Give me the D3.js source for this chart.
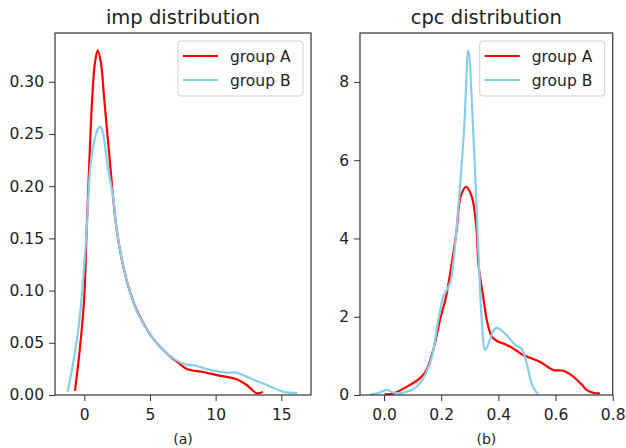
<!DOCTYPE html>
<html>
<head>
<meta charset="utf-8">
<script src="https://cdn.jsdelivr.net/npm/d3@7"></script>
<style>
  body { margin: 0; background: #fff; }
  svg { display: block; font-family: "DejaVu Sans", sans-serif; }
</style>
</head>
<body>
<svg id="chart" width="626" height="448"></svg>
<script>
// imp distribution (a)
var impAx = [-0.71, -0.46, -0.2, 0.0, 0.18, 0.38, 0.61, 0.81, 1.02, 1.27, 1.5, 1.73, 1.96, 2.19, 2.47, 2.92, 3.5, 4.11, 5.13, 6.27, 7.14, 7.8, 9.06, 10.08, 11.6, 12.37, 13.13, 13.6];
var impAy = [0.004, 0.030, 0.062, 0.094, 0.158, 0.222, 0.286, 0.318, 0.330, 0.318, 0.286, 0.254, 0.222, 0.190, 0.158, 0.126, 0.098, 0.078, 0.056, 0.040, 0.031, 0.025, 0.022, 0.019, 0.015, 0.0096, 0.0016, 0.003];
var impBx = [-1.27, -0.86, -0.46, -0.2, 0.18, 0.38, 0.55, 0.76, 1.0, 1.2, 1.4, 1.58, 1.8, 2.19, 2.47, 2.92, 3.5, 4.11, 5.13, 6.27, 7.54, 8.56, 9.57, 10.85, 11.6, 12.62, 13.89, 15.16, 16.2];
var impBy = [0.003, 0.030, 0.062, 0.094, 0.158, 0.205, 0.228, 0.243, 0.254, 0.257, 0.252, 0.238, 0.218, 0.190, 0.158, 0.126, 0.098, 0.077, 0.056, 0.040, 0.030, 0.0278, 0.024, 0.0214, 0.0214, 0.016, 0.0096, 0.003, 0.002];

// cpc distribution (b)
var cpcAx = [0.003, 0.033, 0.091, 0.126, 0.149, 0.175, 0.196, 0.217, 0.237, 0.254, 0.268, 0.287, 0.307, 0.324, 0.33, 0.347, 0.36, 0.377, 0.395, 0.429, 0.46, 0.487, 0.545, 0.592, 0.627, 0.662, 0.69, 0.709, 0.735, 0.755];
var cpcAy = [0.02, 0.04, 0.26, 0.43, 0.64, 1.23, 1.92, 2.51, 3.36, 4.21, 5.07, 5.32, 5.07, 4.21, 3.36, 2.51, 1.9, 1.49, 1.38, 1.28, 1.15, 1.02, 0.85, 0.64, 0.62, 0.47, 0.28, 0.13, 0.05, 0.04];
var cpcBx = [-0.049, -0.02, 0.009, 0.03, 0.06, 0.114, 0.161, 0.19, 0.207, 0.231, 0.242, 0.263, 0.28, 0.295, 0.312, 0.332, 0.343, 0.353, 0.365, 0.38, 0.394, 0.41, 0.429, 0.45, 0.464, 0.481, 0.499, 0.516, 0.53, 0.54];
var cpcBy = [0.01, 0.05, 0.13, 0.07, 0.05, 0.21, 0.81, 1.92, 2.51, 2.85, 3.36, 5.07, 6.77, 8.81, 6.77, 3.36, 1.8, 1.15, 1.3, 1.6, 1.72, 1.65, 1.53, 1.35, 1.25, 1.19, 0.81, 0.30, 0.10, 0.03];

var impXTicks = [0, 5, 10, 15],
    impYTicks = [0, 0.05, 0.10, 0.15, 0.20, 0.25, 0.30],
    cpcXTicks = [0, 0.2, 0.4, 0.6, 0.8],
    cpcYTicks = [0, 2, 4, 6, 8];

var seriesNames = ['group A', 'group B'],
    seriesColors = ['#ff0000', '#87ceeb'];

var svg = d3.select('#chart');

function zip(xs, ys) {
  return xs.map(function(x, i) { return [x, ys[i]]; });
}

function drawPanel(p) {
  var x = d3.scaleLinear().domain(p.xDomain).range([p.left, p.right]),
      y = d3.scaleLinear().domain(p.yDomain).range([p.bottom, p.top]),
      g = svg.append('g');

  var line = d3.line()
    .x(function(d) { return x(d[0]); })
    .y(function(d) { return y(d[1]); })
    .curve(d3.curveCatmullRom.alpha(0.5));

  p.series.forEach(function(s, i) {
    g.append('path')
      .attr('d', line(s))
      .attr('fill', 'none')
      .attr('stroke', seriesColors[i])
      .attr('stroke-width', 2.2)
      .attr('stroke-linejoin', 'round');
  });

  var xAxis = g.append('g')
    .attr('transform', 'translate(0,' + p.bottom + ')')
    .call(d3.axisBottom(x).tickValues(p.xTicks).tickFormat(p.xFormat).tickSizeOuter(0).tickSize(6).tickPadding(8));
  var yAxis = g.append('g')
    .attr('transform', 'translate(' + p.left + ',0)')
    .call(d3.axisLeft(y).tickValues(p.yTicks).tickFormat(p.yFormat).tickSizeOuter(0).tickSize(6).tickPadding(5));

  [xAxis, yAxis].forEach(function(a) {
    a.select('.domain').remove();
    a.selectAll('line').attr('stroke', '#333');
    a.selectAll('text').attr('fill', '#222').style('font-size', '15.5px').style('font-family', '"DejaVu Sans", sans-serif');
  });

  // frame
  g.append('rect')
    .attr('x', p.left).attr('y', p.top)
    .attr('width', p.right - p.left).attr('height', p.bottom - p.top)
    .attr('fill', 'none').attr('stroke', '#333').attr('stroke-width', 1.2);

  g.append('text')
    .attr('x', (p.left + p.right) / 2).attr('y', 24)
    .attr('text-anchor', 'middle')
    .style('font-size', '19.5px').attr('fill', '#222')
    .text(p.title);

  g.append('text')
    .attr('x', (p.left + p.right) / 2).attr('y', 444)
    .attr('text-anchor', 'middle')
    .style('font-size', '14px').attr('fill', '#222')
    .text(p.caption);

  // legend
  var lg = g.append('g').attr('transform', 'translate(' + (p.right - 133) + ',' + (p.top + 8) + ')');
  lg.append('rect')
    .attr('width', 125).attr('height', 55).attr('rx', 3)
    .attr('fill', '#fff').attr('fill-opacity', 0.8)
    .attr('stroke', '#d0d0d0');
  seriesNames.forEach(function(n, i) {
    lg.append('line')
      .attr('x1', 5).attr('x2', 40)
      .attr('y1', 15 + i * 24).attr('y2', 15 + i * 24)
      .attr('stroke', seriesColors[i]).attr('stroke-width', 2.2);
    lg.append('text')
      .attr('x', 52).attr('y', 20.5 + i * 24)
      .style('font-size', '15.5px').attr('fill', '#222')
      .text(n);
  });
}

drawPanel({
  left: 55, right: 311, top: 33, bottom: 395,
  xDomain: [-2.23, 17.26], yDomain: [0, 0.3467],
  xTicks: impXTicks, yTicks: impYTicks,
  xFormat: d3.format('d'), yFormat: d3.format('.2f'),
  title: 'imp distribution', caption: '(a)',
  series: [zip(impAx, impAy), zip(impBx, impBy)]
});

drawPanel({
  left: 360, right: 612.7, top: 33, bottom: 395,
  xDomain: [-0.084, 0.8], yDomain: [0, 9.25],
  xTicks: cpcXTicks, yTicks: cpcYTicks,
  xFormat: d3.format('.1f'), yFormat: d3.format('d'),
  title: 'cpc distribution', caption: '(b)',
  series: [zip(cpcAx, cpcAy), zip(cpcBx, cpcBy)]
});
</script>
</body>
</html>
